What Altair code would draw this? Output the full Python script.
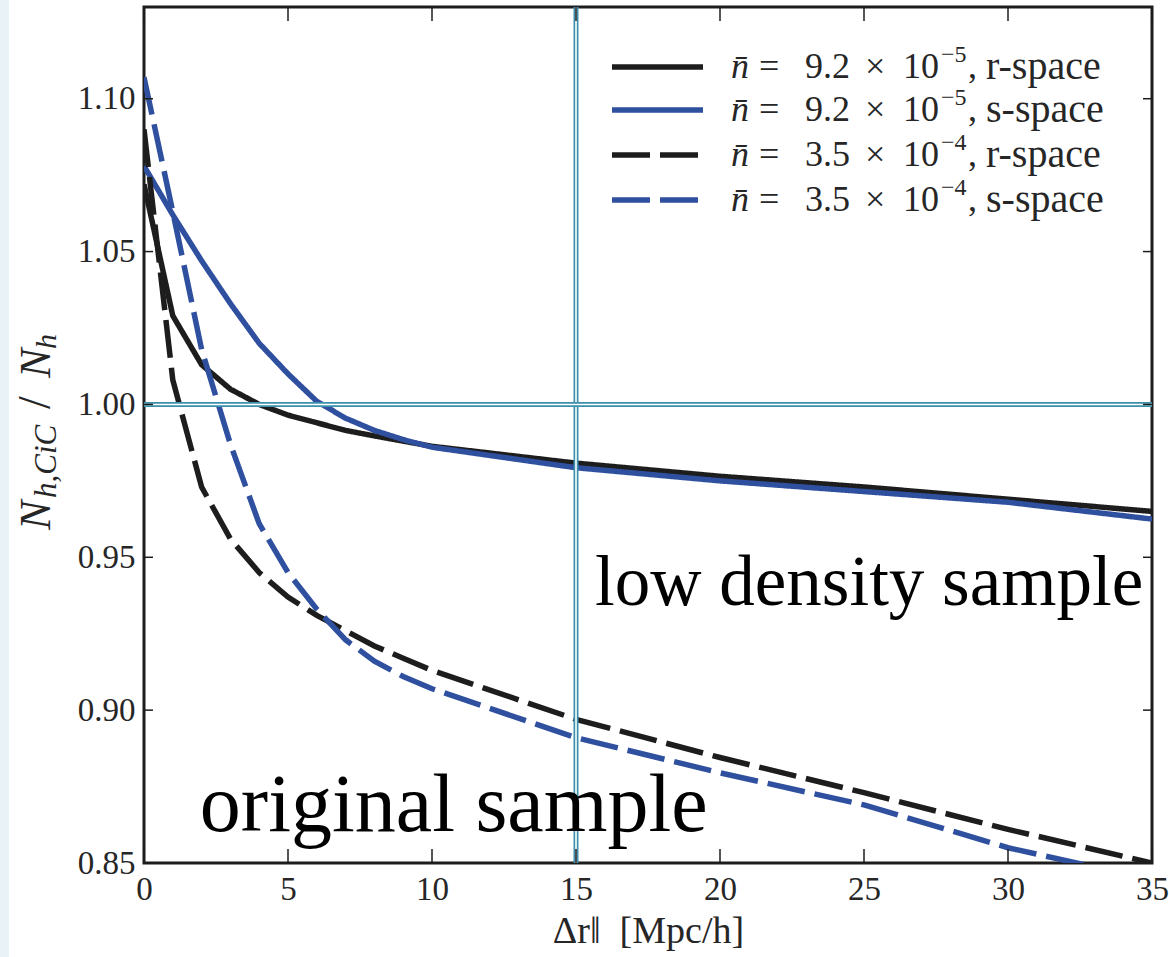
import altair as alt
import pandas as pd

# ---------------- data ----------------
x_vals = [0, 1, 2, 3, 4, 5, 6, 7, 8, 9, 10, 15, 20, 25, 30, 35]
low_r = [1.072, 1.029, 1.013, 1.005, 1.000, 0.9965, 0.994, 0.9915, 0.9897, 0.988, 0.9863,
         0.9808, 0.9765, 0.973, 0.969, 0.965]
low_s = [1.078, 1.062, 1.047, 1.033, 1.020, 1.010, 1.001, 0.9955, 0.9915, 0.9885, 0.986,
         0.9793, 0.975, 0.9715, 0.968, 0.9625]
orig_r = [1.090, 1.008, 0.973, 0.956, 0.945, 0.937, 0.931, 0.926, 0.921, 0.917, 0.913,
          0.897, 0.8845, 0.873, 0.861, 0.850]
orig_s = [1.107, 1.063, 1.018, 0.987, 0.961, 0.945, 0.933, 0.923, 0.916, 0.911, 0.907,
          0.891, 0.8795, 0.869, 0.855, 0.8445]

series_keys = ["low_r", "low_s", "orig_r", "orig_s"]
density_mant = ["9.2", "9.2", "3.5", "3.5"]
density_exp = ["\u22125", "\u22125", "\u22124", "\u22124"]
space_kind = ["r-space", "s-space", "r-space", "s-space"]
x_ticks = [0, 5, 10, 15, 20, 25, 30, 35]
y_ticks = [0.85, 0.90, 0.95, 1.00, 1.05, 1.10]
ref_x = [15]
ref_y = [1.0]
annotations = ["low density sample", "original sample"]

# ---------------- styles ----------------
BLACK = "#1d1d1d"
BLUE = "#2f4f9f"
TEAL = "#3b90ad"
TXT = "#262626"
colors = [BLACK, BLUE, BLACK, BLUE]
dashes = [[1, 0], [1, 0], [38, 10], [38, 10]]
SERIF = "Liberation Serif"
W, H = 1008, 856

rows = []
for key, ys in zip(series_keys, [low_r, low_s, orig_r, orig_s]):
    for xv, yv in zip(x_vals, ys):
        rows.append({"series": key, "x": xv, "y": yv})
df = pd.DataFrame(rows)

xs = alt.Scale(domain=[0, 35], nice=False, zero=False)
ys = alt.Scale(domain=[0.85, 1.13], nice=False, zero=False)
x_axis = alt.Axis(values=x_ticks, format="d", title="\u0394r\u2016\u2002[Mpc/h]",
                  labelPadding=10, titlePadding=6,
                  labelFont=SERIF, titleFont=SERIF)
y_axis = alt.Axis(values=y_ticks, format=".2f", title=None, labelPadding=9,
                  labelFont=SERIF)


def X(field="x"):
    return alt.X(f"{field}:Q", scale=xs, axis=x_axis)


def Y(field="y"):
    return alt.Y(f"{field}:Q", scale=ys, axis=y_axis)


lines = alt.Chart(df).mark_line(strokeWidth=5.5, clip=True, strokeCap="butt").encode(
    x=X(), y=Y(),
    color=alt.Color("series:N", scale=alt.Scale(domain=series_keys, range=colors), legend=None),
    strokeDash=alt.StrokeDash("series:N", scale=alt.Scale(domain=series_keys, range=dashes), legend=None),
    detail="series:N",
)

# faint slide-background strip at the far left
strip = alt.Chart(pd.DataFrame({"k": [0]})).mark_rect(color="#e9f2f6").encode(
    x=alt.value(-144), x2=alt.value(-135), y=alt.value(-7), y2=alt.value(950))

# reference double lines
vx = alt.Chart(pd.DataFrame({"x": ref_x}))
hy = alt.Chart(pd.DataFrame({"y": ref_y}))
ref_layers = [
    vx.mark_rule(color=TEAL, strokeWidth=5).encode(x=X()),
    vx.mark_rule(color="white", strokeWidth=1.6).encode(x=X()),
    hy.mark_rule(color=TEAL, strokeWidth=5).encode(y=Y()),
    hy.mark_rule(color="white", strokeWidth=1.6).encode(y=Y()),
]

# inward tick marks (all four sides)
xt = alt.Chart(pd.DataFrame({"x": x_ticks}))
yt = alt.Chart(pd.DataFrame({"y": y_ticks}))
tick_layers = [
    xt.mark_rule(color=BLACK, strokeWidth=1.5).encode(x=X(), y=alt.value(H), y2=alt.value(H - 14)),
    xt.mark_rule(color=BLACK, strokeWidth=1.5).encode(x=X(), y=alt.value(0), y2=alt.value(14)),
    yt.mark_rule(color=BLACK, strokeWidth=1.5).encode(y=Y(), x=alt.value(0), x2=alt.value(9)),
    yt.mark_rule(color=BLACK, strokeWidth=1.5).encode(y=Y(), x=alt.value(W), x2=alt.value(W - 9)),
]


def txt(s, x, y, size=36, style="normal", baseline="middle"):
    return alt.Chart(pd.DataFrame({"t": [s]})).mark_text(
        font=SERIF, fontSize=size, fontStyle=style, color=TXT, align="left",
        baseline=baseline).encode(text="t:N", x=alt.value(x), y=alt.value(y))


# legend (upper right, no frame)
legend_layers = []
row_y = [60, 103, 148, 193]
for i, key in enumerate(series_keys):
    yy = row_y[i]
    legend_layers.append(alt.Chart(pd.DataFrame({"k": [key]})).mark_rule(
        color=colors[i], strokeWidth=5.5, strokeDash=dashes[i], strokeCap="butt").encode(
        x=alt.value(468), x2=alt.value(559), y=alt.value(yy)))
    legend_layers += [
        txt("n\u0304", 587, yy, style="italic"),
        txt("=", 615, yy),
        txt(density_mant[i], 661, yy),
        txt("\u00d7", 721, yy),
        txt("10", 759, yy),
        txt(density_exp[i], 797, yy - 12, size=24),
        txt(",", 824, yy),
        txt(space_kind[i], 842, yy, size=40),
    ]

# in-plot annotations
ann1 = alt.Chart(pd.DataFrame({"x": [15.66], "y": [0.9345], "t": [annotations[0]]})).mark_text(
    font=SERIF, fontSize=71, color="black", align="left", baseline="alphabetic").encode(
    x=X(), y=Y(), text="t:N")
ann2 = alt.Chart(pd.DataFrame({"x": [1.94], "y": [0.8605], "t": [annotations[1]]})).mark_text(
    font=SERIF, fontSize=82, color="black", align="left", baseline="alphabetic").encode(
    x=X(), y=Y(), text="t:N")

# y-axis title N_{h,CiC}/N_h built from pieces (rotated)
title_parts = [("N", 44, "italic", -94, 523), ("h,CiC", 31, "italic", -88, 491),
               ("/", 46, "normal", -94, 402), ("N", 44, "italic", -94, 371),
               ("h", 30, "italic", -88, 342)]
ytitle_layers = []
for t, fs, st, px, py in title_parts:
    ytitle_layers.append(alt.Chart(pd.DataFrame({"t": [t]})).mark_text(
        font=SERIF, fontSize=fs, fontStyle=st, color=TXT, angle=270,
        align="left", baseline="alphabetic").encode(text="t:N", x=alt.value(px), y=alt.value(py)))

chart = alt.layer(
    strip, lines, *ref_layers, *tick_layers, *legend_layers, ann1, ann2, *ytitle_layers
).properties(
    width=W, height=H,
    padding={"left": 144, "top": 7, "right": 17, "bottom": 94},
    autosize=alt.AutoSizeParams(type="none"),
    background="white",
).configure(
    font=SERIF,
    style={"guide-label": {"font": SERIF}, "guide-title": {"font": SERIF}},
).configure_view(
    stroke=BLACK, strokeWidth=3
).configure_axis(
    ticks=False, domain=False, grid=False, labelFlush=False, labelOverlap=False,
    labelFont=SERIF, labelFontSize=33, labelColor=TXT,
    titleFont=SERIF, titleFontSize=38, titleFontWeight="normal", titleColor=TXT,
)

chart.save("out.html", embed_options={"renderer": "svg", "actions": False})
